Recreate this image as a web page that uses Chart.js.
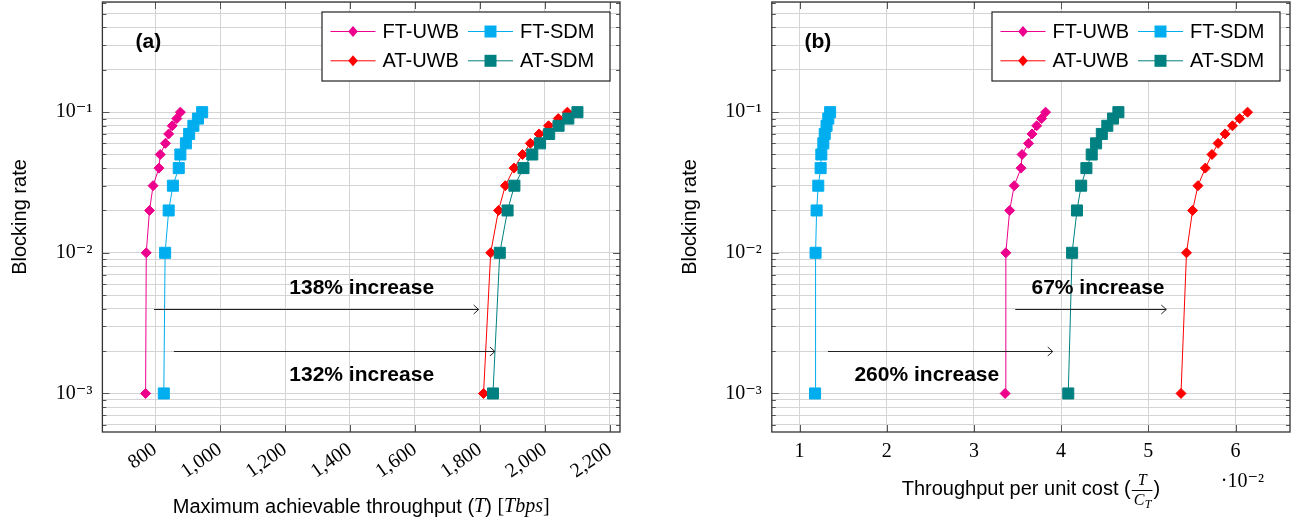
<!DOCTYPE html>
<html>
<head>
<meta charset="utf-8">
<script src="https://cdn.jsdelivr.net/npm/chart.js@4.4.1/dist/chart.umd.min.js"></script>
<style>
  html, body { margin: 0; padding: 0; background: #fff; }
  body { width: 1306px; height: 522px; position: relative; overflow: hidden; }
  canvas { position: absolute; top: 0; }
  #chartA { left: 0; }
  #chartB { left: 656px; }
</style>
</head>
<body>
<canvas id="chartA" width="650" height="522"></canvas>
<canvas id="chartB" width="650" height="522"></canvas>
<script>
// --- Data ---
const blockingRates = [0.001, 0.01, 0.02, 0.03, 0.04, 0.05, 0.06, 0.07, 0.08, 0.09, 0.1];
const seriesNames = ['FT-UWB', 'FT-SDM', 'AT-UWB', 'AT-SDM'];

// (a) maximum achievable throughput [Tbps]
const throughputFtUwb = [771, 773, 783, 794, 812, 816, 832, 842, 853, 867, 878];
const throughputFtSdm = [827, 831, 842, 855, 873, 878, 895, 905, 918, 932, 945];
const throughputAtUwb = [1811, 1833, 1857, 1878, 1905, 1931, 1955, 1982, 2011, 2041, 2069];
const throughputAtSdm = [1840, 1861, 1885, 1906, 1934, 1961, 1985, 2013, 2042, 2072, 2100];

// (b) throughput per unit cost, in units of 10^-2
const costFtUwb = [3.358, 3.366, 3.41, 3.462, 3.54, 3.552, 3.626, 3.666, 3.72, 3.776, 3.822];
const costFtSdm = [1.178, 1.184, 1.196, 1.215, 1.242, 1.25, 1.273, 1.289, 1.31, 1.33, 1.351];
const costAtUwb = [5.375, 5.438, 5.508, 5.569, 5.654, 5.73, 5.8, 5.881, 5.965, 6.048, 6.138];
const costAtSdm = [4.082, 4.126, 4.182, 4.23, 4.29, 4.351, 4.401, 4.467, 4.53, 4.595, 4.657];

// tick labels
const throughputTicks = [800, 1000, 1200, 1400, 1600, 1800, 2000, 2200];
const costTicks = [1, 2, 3, 4, 5, 6];
const blockingDecades = [-4, -3, -2, -1];

// --- Style config ---
const seriesColors = ['#ec008c', '#00aeef', '#ff0000', '#008080'];
const seriesMarkers = ['rectRot', 'rect', 'rectRot', 'rect'];
const SANS = '"Liberation Sans", Arial, Helvetica, sans-serif';
const SERIF = '"Liberation Serif", "DejaVu Serif", serif';
const SUP = { '-': '\u207B', '1': '\u00B9', '2': '\u00B2', '3': '\u00B3', '4': '\u2074' };
const Y_MIN = 5.32e-4;
const Y_MAX = 0.607;

function isDecade(v) {
    const l = Math.log10(v);
    return Math.abs(l - Math.round(l)) < 1e-6;
}

// 1..9 x 10^k for every decade, kept inside the axis range
function blockingTickValues() {
    const vals = [];
    blockingDecades.forEach(k => {
        for (let m = 1; m <= 9; m++) vals.push(+(m * Math.pow(10, k)).toPrecision(6));
    });
    return vals.filter(v => v >= Y_MIN && v <= Y_MAX);
}

function makeDatasets(xArrays) {
    return xArrays.map((xs, i) => ({
        label: seriesNames[i],
        data: xs.map((x, j) => ({ x: x, y: blockingRates[j] })),
        borderColor: seriesColors[i],
        backgroundColor: seriesColors[i],
        pointBackgroundColor: seriesColors[i],
        pointBorderColor: seriesColors[i],
        pointStyle: seriesMarkers[i],
        pointRadius: seriesMarkers[i] === 'rect' ? 7.8 : 5,
        pointBorderWidth: 1,
        borderWidth: 1,
        tension: 0,
        order: 3 - i
    }));
}

// --- Drawing helpers ---
function drawMarker(ctx, style, x, y, color) {
    ctx.fillStyle = color;
    ctx.beginPath();
    if (style === 'rect') {
        ctx.rect(x - 6, y - 6, 12, 12);
    } else {
        ctx.moveTo(x, y - 5.5);
        ctx.lineTo(x + 4.8, y);
        ctx.lineTo(x, y + 5.5);
        ctx.lineTo(x - 4.8, y);
        ctx.closePath();
    }
    ctx.fill();
}

// measure / draw a title made of font segments (sans text, math italic, fraction)
function segWidth(ctx, s) {
    if (s.num) {
        ctx.font = 'italic 16px ' + SERIF;
        const n = ctx.measureText(s.num).width;
        const d = ctx.measureText(s.den).width + 8;
        return Math.max(n, d) + 4;
    }
    ctx.font = s.font;
    return ctx.measureText(s.t).width;
}

function drawSegments(ctx, segs, cx, cy) {
    const total = segs.reduce((acc, s) => acc + segWidth(ctx, s), 0);
    let x = cx - total / 2;
    ctx.fillStyle = '#000';
    ctx.textAlign = 'left';
    ctx.textBaseline = 'middle';
    segs.forEach(s => {
        const w = segWidth(ctx, s);
        if (s.num) {
            ctx.font = 'italic 16px ' + SERIF;
            ctx.textAlign = 'center';
            ctx.fillText(s.num, x + w / 2, cy - 8);
            ctx.fillText(s.den, x + w / 2 - 3, cy + 12);
            ctx.font = 'italic 12px ' + SERIF;
            ctx.fillText(s.sub, x + w / 2 + 6, cy + 16);
            ctx.fillRect(x + 1, cy + 1, w - 2, 1);
            ctx.textAlign = 'left';
        } else {
            ctx.font = s.font;
            ctx.fillText(s.t, x, cy);
        }
        x += w;
    });
}

const paperDecor = {
    id: 'paperDecor',
    beforeDatasetsDraw(chart, args, opts) {
        const { ctx, chartArea: a, scales: { x, y } } = chart;
        ctx.save();
        ctx.strokeStyle = '#555';
        ctx.lineWidth = 1;
        ctx.beginPath();
        y.ticks.forEach(t => {
            const py = Math.round(y.getPixelForValue(t.value)) + 0.5;
            const len = isDecade(t.value) ? 7 : 4;
            ctx.moveTo(a.left, py); ctx.lineTo(a.left + len, py);
            ctx.moveTo(a.right, py); ctx.lineTo(a.right - len, py);
        });
        x.ticks.forEach(t => {
            const px = Math.round(x.getPixelForValue(t.value)) + 0.5;
            ctx.moveTo(px, a.bottom); ctx.lineTo(px, a.bottom - 7);
            ctx.moveTo(px, a.top); ctx.lineTo(px, a.top + 7);
        });
        ctx.stroke();
        ctx.restore();
    },
    afterDraw(chart, args, opts) {
        const { ctx, chartArea: a, scales: { x, y } } = chart;
        ctx.save();

        // frame
        ctx.strokeStyle = '#333';
        ctx.lineWidth = 1.3;
        ctx.strokeRect(a.left, a.top, a.right - a.left, a.bottom - a.top);

        // panel label
        ctx.fillStyle = '#000';
        ctx.font = 'bold 21px ' + SANS;
        ctx.textAlign = 'center';
        ctx.textBaseline = 'middle';
        ctx.fillText(opts.panel, a.left + 46, a.top + 40);

        // arrows
        ctx.strokeStyle = '#222';
        ctx.lineWidth = 1;
        opts.arrows.forEach(ar => {
            const x1 = x.getPixelForValue(ar.from);
            const x2 = x.getPixelForValue(ar.to);
            const py = Math.round(y.getPixelForValue(ar.y)) + 0.5;
            ctx.beginPath();
            ctx.moveTo(x1, py); ctx.lineTo(x2, py);
            ctx.moveTo(x2 - 5, py - 4.5); ctx.lineTo(x2, py); ctx.lineTo(x2 - 5, py + 4.5);
            ctx.stroke();
        });

        // annotation texts
        ctx.font = 'bold 21px ' + SANS;
        ctx.fillStyle = '#000';
        opts.notes.forEach(n => {
            ctx.fillText(n.text, x.getPixelForValue(n.x), y.getPixelForValue(n.y));
        });

        // legend
        const bw = 288, bh = 69;
        const bx = a.right - 10 - bw, by = a.top + 10;
        ctx.fillStyle = '#fff';
        ctx.fillRect(bx, by, bw, bh);
        ctx.strokeStyle = '#222';
        ctx.lineWidth = 1.2;
        ctx.strokeRect(bx, by, bw, bh);
        chart.data.datasets.forEach((ds, i) => {
            const col = i % 2, row = Math.floor(i / 2);
            const x0 = bx + (col ? 146 : 8.5);
            const yy = by + (row ? 48.8 : 19.5);
            ctx.strokeStyle = ds.borderColor;
            ctx.lineWidth = 1;
            ctx.beginPath();
            ctx.moveTo(x0, yy); ctx.lineTo(x0 + 45, yy);
            ctx.stroke();
            drawMarker(ctx, ds.pointStyle, x0 + 22.5, yy, ds.borderColor);
            ctx.fillStyle = '#000';
            ctx.font = '20px ' + SANS;
            ctx.textAlign = 'left';
            ctx.fillText(ds.label, x0 + 52, yy + 1);
        });

        // x axis title
        drawSegments(ctx, opts.xTitle, (a.left + a.right) / 2, a.bottom + opts.xTitleDy);

        // scale multiplier
        if (opts.multiplier) {
            ctx.fillStyle = '#000';
            ctx.font = '20px ' + SERIF;
            ctx.textAlign = 'right';
            ctx.textBaseline = 'middle';
            ctx.fillText(opts.multiplier, a.right - 26, a.bottom + 50);
        }
        ctx.restore();
    }
};

function makeChart(canvasId, xArrays, xCfg, decor) {
    return new Chart(document.getElementById(canvasId), {
        type: 'line',
        data: { datasets: makeDatasets(xArrays) },
        plugins: [paperDecor],
        options: {
            responsive: false,
            animation: false,
            layout: {
                autoPadding: false,
                padding: { left: 0, top: 2, right: xCfg.padRight, bottom: 0 }
            },
            plugins: {
                legend: { display: false },
                tooltip: { enabled: false },
                paperDecor: decor
            },
            scales: {
                x: {
                    type: 'linear',
                    min: xCfg.min,
                    max: xCfg.max,
                    afterBuildTicks: scale => { scale.ticks = xCfg.ticks.map(v => ({ value: v })); },
                    afterFit: scale => {
                        scale.height = 90;
                        scale.paddingLeft = 0;
                        scale.paddingRight = 0;
                    },
                    grid: { color: '#d4d4d4', lineWidth: 1, drawTicks: false },
                    border: { display: false },
                    ticks: {
                        autoSkip: false,
                        minRotation: xCfg.rotation,
                        maxRotation: xCfg.rotation,
                        padding: xCfg.tickPad,
                        color: '#000',
                        font: { family: SERIF, size: 20 },
                        callback: xCfg.format
                    }
                },
                y: {
                    type: 'logarithmic',
                    min: Y_MIN,
                    max: Y_MAX,
                    afterBuildTicks: scale => { scale.ticks = blockingTickValues().map(v => ({ value: v })); },
                    afterFit: scale => {
                        scale.width = xCfg.yWidth;
                        scale.paddingTop = 0;
                        scale.paddingBottom = 0;
                    },
                    grid: { color: '#d4d4d4', lineWidth: 1, drawTicks: false },
                    border: { display: false },
                    title: {
                        display: true,
                        text: 'Blocking rate',
                        color: '#000',
                        font: { family: SANS, size: 20 },
                        padding: { top: xCfg.titlePad, bottom: 0 }
                    },
                    ticks: {
                        autoSkip: false,
                        padding: 10,
                        color: '#000',
                        font: { family: SERIF, size: 20 },
                        callback: v => {
                            if (!isDecade(v)) return [];
                            const e = String(Math.round(Math.log10(v)));
                            return '10' + e.split('').map(c => SUP[c]).join('');
                        }
                    }
                }
            }
        }
    });
}

// (a) Maximum achievable throughput
makeChart('chartA',
    [throughputFtUwb, throughputFtSdm, throughputAtUwb, throughputAtSdm],
    {
        min: 638, max: 2231, ticks: throughputTicks, rotation: 35, tickPad: 6,
        padRight: 30, yWidth: 102.4, titlePad: 8,
        format: v => v.toLocaleString('en-US')
    },
    {
        panel: '(a)',
        arrows: [
            { from: 797, to: 1796, y: 0.004 },
            { from: 858, to: 1846, y: 0.002 }
        ],
        notes: [
            { text: '138% increase', x: 1436, y: 0.00563 },
            { text: '132% increase', x: 1436, y: 0.001355 }
        ],
        xTitle: [
            { t: 'Maximum achievable throughput (', font: '20px ' + SANS },
            { t: 'T', font: 'italic 20px ' + SERIF },
            { t: ') ', font: '20px ' + SANS },
            { t: '[', font: '20px ' + SERIF },
            { t: 'Tbps', font: 'italic 20px ' + SERIF },
            { t: ']', font: '20px ' + SERIF }
        ],
        xTitleDy: 75
    });

// (b) Throughput per unit cost
makeChart('chartB',
    [costFtUwb, costFtSdm, costAtUwb, costAtSdm],
    {
        min: 0.682, max: 6.625, ticks: costTicks, rotation: 0, tickPad: 8,
        padRight: 16, yWidth: 115.8, titlePad: 22,
        format: v => String(v)
    },
    {
        panel: '(b)',
        arrows: [
            { from: 3.474, to: 5.206, y: 0.004 },
            { from: 1.326, to: 3.904, y: 0.002 }
        ],
        notes: [
            { text: '67% increase', x: 4.423, y: 0.00563 },
            { text: '260% increase', x: 2.46, y: 0.001355 }
        ],
        xTitle: [
            { t: 'Throughput per unit cost (', font: '20px ' + SANS },
            { num: 'T', den: 'C', sub: 'T' },
            { t: ')', font: '20px ' + SANS }
        ],
        xTitleDy: 57,
        multiplier: '\u00B710\u207B\u00B2'
    });
</script>
</body>
</html>
